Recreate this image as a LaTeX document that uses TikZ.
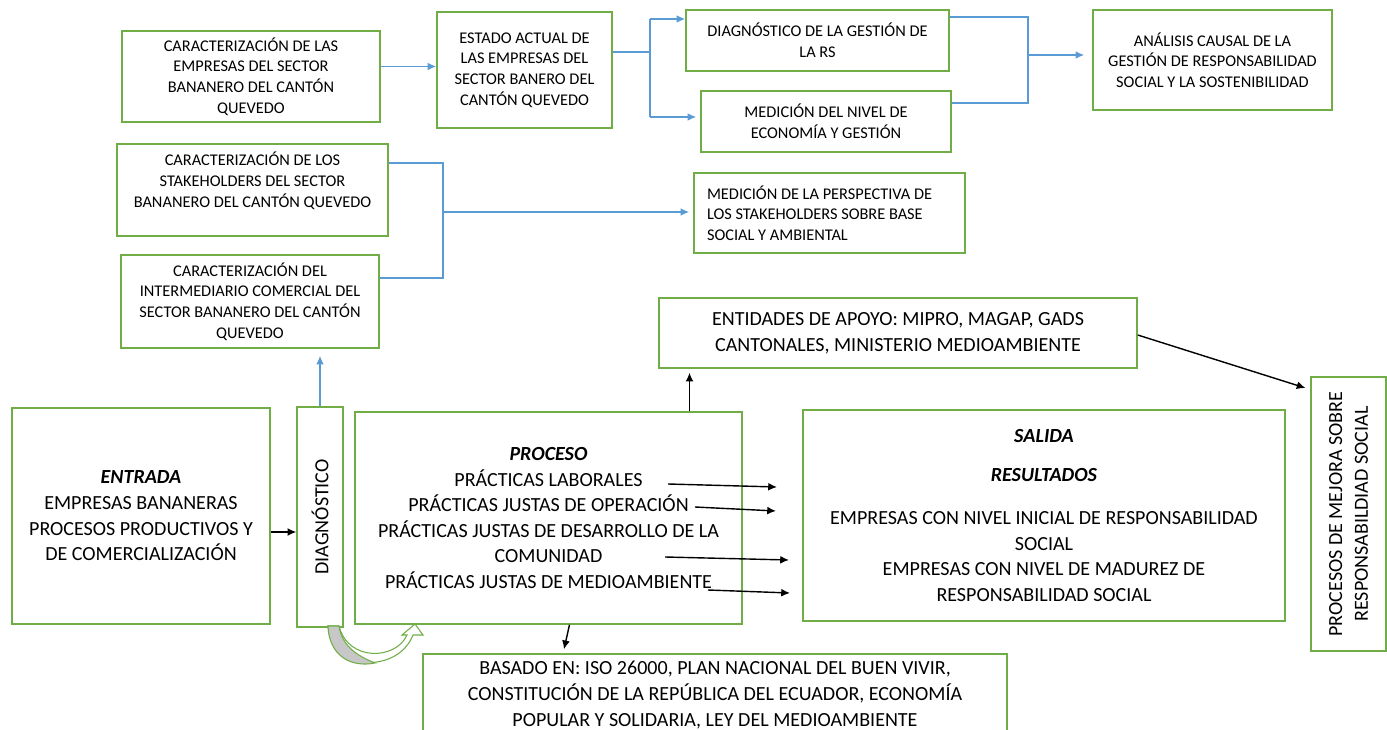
\documentclass[tikz,border=0pt]{standalone}
\usepackage{fontspec}
\setmainfont{Carlito}
\usetikzlibrary{arrows.meta,calc}
\definecolor{boxgreen}{RGB}{112,173,71}
\definecolor{linkblue}{RGB}{91,155,213}
\tikzset{
  box/.style={draw=boxgreen, line width=0.8pt, inner sep=0pt, align=center},
  smalltext/.style={font=\fontsize{9.3}{11.7}\selectfont},
  bigtext/.style={font=\fontsize{11.4}{14.6}\selectfont},
  blueline/.style={draw=linkblue, line width=0.9pt},
  bluearrow/.style={blueline, -{Latex[length=5pt,width=4.5pt]}},
  blackarrow/.style={draw=black, line width=0.8pt, -{Latex[length=5pt,width=4.5pt]}},
}

\begin{document}
\begin{tikzpicture}[x=0.2mm,y=-0.2mm]
	%%%%% START %%%%%
	\useasboundingbox (0,0) rectangle (1387,730);
	
	% upper part
	\node[box, smalltext, minimum width=51.6mm, minimum height=18.2mm] (carempresas) at (251,76.5) {CARACTERIZACIÓN DE LAS\\EMPRESAS DEL SECTOR\\BANANERO DEL CANTÓN\\QUEVEDO};
	\node[box, smalltext, minimum width=35mm, minimum height=23.2mm] (estado) at (524.5,70) {ESTADO ACTUAL DE\\LAS EMPRESAS DEL\\SECTOR BANERO DEL\\CANTÓN QUEVEDO};
	\node[box, smalltext, minimum width=52.6mm, minimum height=12.2mm] (diagrs) at (817.5,40.5) {DIAGNÓSTICO DE LA GESTIÓN DE\\LA RS};
	\node[box, smalltext, minimum width=50mm, minimum height=12.2mm] (medicion) at (826,121.5) {MEDICIÓN DEL NIVEL DE\\ECONOMÍA Y GESTIÓN};
	\node[box, smalltext, minimum width=47.8mm, minimum height=20mm] (analisis) at (1212.5,60) {ANÁLISIS CAUSAL DE LA\\GESTIÓN DE RESPONSABILIDAD\\SOCIAL Y LA SOSTENIBILIDAD};
	
	\node[box, smalltext, minimum width=54.2mm, minimum height=18.4mm] (stake) at (252.5,190) {CARACTERIZACIÓN DE LOS\\STAKEHOLDERS DEL SECTOR\\BANANERO DEL CANTÓN QUEVEDO\\[0pt]};
	\node[box, smalltext, minimum width=51.6mm, minimum height=18.6mm] (inter) at (250,301.5) {CARACTERIZACIÓN DEL\\INTERMEDIARIO COMERCIAL DEL\\SECTOR BANANERO DEL CANTÓN\\QUEVEDO};
	\node[box, smalltext, align=flush left, text width=49mm, inner xsep=2.6mm, minimum height=16mm] (perspectiva) at (829.5,213) {MEDICIÓN DE LA PERSPECTIVA DE\\LOS STAKEHOLDERS SOBRE BASE\\SOCIAL Y AMBIENTAL};
	
	% lower part
	\node[box, bigtext, minimum width=95.6mm, minimum height=14mm] (entidades) at (898,333) {ENTIDADES DE APOYO: MIPRO, MAGAP, GADS\\CANTONALES, MINISTERIO MEDIOAMBIENTE};
	\node[box, bigtext, rotate=90, minimum width=54.8mm, minimum height=15mm] (mejora) at (1348.5,514) {PROCESOS DE MEJORA SOBRE\\RESPONSABILDIAD SOCIAL};
	\node[box, bigtext, minimum width=51.6mm, minimum height=43.2mm] (entrada) at (141,516) {\textbf{\textit{ENTRADA}}\\EMPRESAS BANANERAS\\PROCESOS PRODUCTIVOS Y\\DE COMERCIALIZACIÓN};
	\node[box, bigtext, rotate=90, minimum width=44mm, minimum height=9.2mm] (diagnostico) at (320,517) {DIAGNÓSTICO};
	\node[box, bigtext, minimum width=77.4mm, minimum height=42.4mm] (proceso) at (548.5,518) {\textbf{\textit{PROCESO}}\\PRÁCTICAS LABORALES\\PRÁCTICAS JUSTAS DE OPERACIÓN\\PRÁCTICAS JUSTAS DE DESARROLLO DE LA\\COMUNIDAD\\PRÁCTICAS JUSTAS DE MEDIOAMBIENTE};
	\node[box, bigtext, minimum width=96.4mm, minimum height=42.2mm] (salida) at (1044,515.5) {\textbf{\textit{SALIDA}}\\[7.6pt]\textbf{\textit{RESULTADOS}}\\[9.9pt]EMPRESAS CON NIVEL INICIAL DE RESPONSABILIDAD\\SOCIAL\\EMPRESAS CON NIVEL DE MADUREZ DE\\RESPONSABILIDAD SOCIAL};
	\node[box, bigtext, minimum width=116.8mm, minimum height=16.4mm] (basado) at (715,695) {BASADO EN: ISO 26000, PLAN NACIONAL DEL BUEN VIVIR,\\CONSTITUCIÓN DE LA REPÚBLICA DEL ECUADOR, ECONOMÍA\\POPULAR Y SOLIDARIA, LEY DEL MEDIOAMBIENTE};
	
	% blue connectors
	\coordinate (c1) at ($(carempresas.east)+(0,-10)$);
	\draw[bluearrow] (c1) -- (c1 -| estado.west);
	
	\coordinate (e1) at ($(estado.east)+(0,-18)$);
	\coordinate (ja) at (650,19);
	\coordinate (jb) at (650,117);
	\draw[blueline] (e1) -- (e1 -| ja);
	\draw[blueline] (ja) -- (jb);
	\draw[bluearrow] (ja) -- (diagrs.west |- ja);
	\draw[bluearrow, shorten >=0.8mm] (jb) -- (jb -| medicion.west);
	
	\coordinate (jc) at (1028,17);
	\coordinate (jd) at (1028,103);
	\coordinate (je) at (1028,55);
	\draw[blueline] (diagrs.east |- jc) -- (jc) -- (jd) -- (medicion.east |- jd);
	\draw[bluearrow, shorten >=1.6mm] (je) -- (analisis.west |- je);
	
	\coordinate (jf) at (443,163);
	\coordinate (jg) at (443,278);
	\coordinate (jh) at (443,212);
	\draw[blueline] (stake.east |- jf) -- (jf) -- (jg) -- (inter.east |- jg);
	\draw[bluearrow, shorten >=0.8mm] (jh) -- (perspectiva.west |- jh);
	
	\draw[bluearrow, shorten >=1.4mm] (diagnostico.east) -- (diagnostico.east |- inter.south);
	
	% black connectors
	\coordinate (k1) at ($(entrada.east)+(0,16)$);
	\draw[blackarrow] (k1) -- (k1 -| diagnostico.north);
	\coordinate (k2) at ($(proceso.north)+(141,0)$);
	\draw[blackarrow, shorten >=0.8mm] (k2) -- (k2 |- entidades.south);
	\draw[blackarrow] ($(entidades.east)+(0,2)$) -- ($(mejora.center)+(-43,-126)$);
	\draw[blackarrow] ($(proceso.south)+(21,0)$) -- ($(basado.north)+(-151,-4)$);
	
	\coordinate (ps1) at (668,484); \coordinate (pe1) at (777,487);
	\coordinate (ps2) at (695,507); \coordinate (pe2) at (776,511);
	\coordinate (ps3) at (665,557); \coordinate (pe3) at (789,560);
	\coordinate (ps4) at (708,590); \coordinate (pe4) at (790,593);
	\draw[blackarrow] (ps1) -- (pe1);
	\draw[blackarrow] (ps2) -- (pe2);
	\draw[blackarrow] (ps3) -- (pe3);
	\draw[blackarrow] (ps4) -- (pe4);
	
	% curved block arrow
	\filldraw[draw=boxgreen, fill=white, line width=0.6pt] (328,626) .. controls (330,672) and (398,674) .. (413,635) -- (423,635) -- (415,624) -- (402,635) -- (407,635) .. controls (396,660) and (348,662) .. (339,626) -- cycle;
	\filldraw[draw=boxgreen, fill=black!22, line width=0.6pt] (328,626) .. controls (329,655) and (350,668) .. (375,663) .. controls (355,655) and (342,645) .. (339,626) -- cycle;
	
	%%%%% END %%%%%
\end{tikzpicture}
\end{document}
